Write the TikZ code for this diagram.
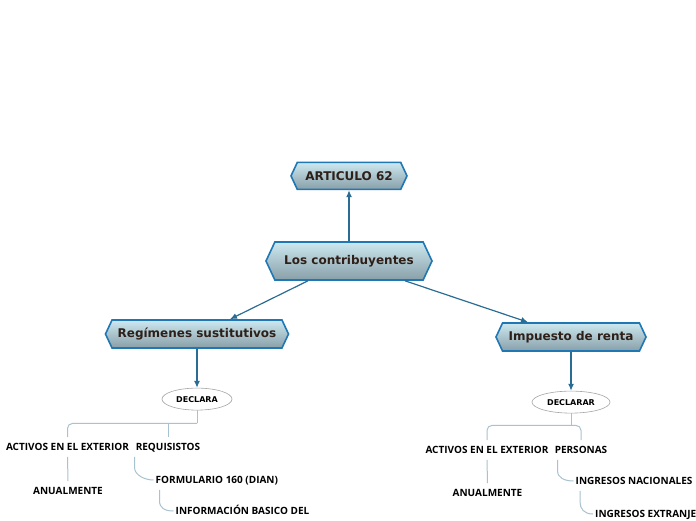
\documentclass[tikz,border=0pt]{standalone}
\usepackage{fontspec}
\usepackage{xcolor}
\usepackage{tikz}
\usetikzlibrary{arrows.meta, positioning, calc, shapes.symbols, shapes.geometric}
\newfontfamily\topicfont{DejaVu Sans}
\newfontfamily\leaffont{Open Sans}
\definecolor{topicborder}{HTML}{1F77B4}
\definecolor{topictop}{HTML}{CDE8F0}
\definecolor{topicbottom}{HTML}{889FA8}
\definecolor{topictext}{HTML}{2E2018}
\definecolor{arrowblue}{HTML}{2B6C93}
\definecolor{branchblue}{HTML}{A8C2CF}

\begin{document}
\begin{tikzpicture}[%
  x=1pt, y=-1pt,
  every node/.style={align=center},
  topic/.style={shape=signal, signal to=west and east, signal pointer angle=130, draw=topicborder, line width=1.6pt, top color=topictop, bottom color=topicbottom, text=topictext, inner sep=2pt, font=\topicfont\bfseries\fontsize{12}{14}\selectfont},
  bubble/.style={ellipse, draw=gray!70, fill=white, line width=0.6pt, inner sep=0pt, minimum height=22pt, font=\topicfont\bfseries\fontsize{8}{9}\selectfont},
  leaf/.style={inner xsep=2pt, inner ysep=6pt, text height=7.2pt, text depth=0pt, font=\leaffont\bfseries\fontsize{10}{12}\selectfont},
  arr/.style={-{Latex[length=7pt, width=6pt]}, draw=arrowblue, line width=1.2pt},
  branch/.style={draw=branchblue, line width=1pt}
]
\useasboundingbox (0,0) rectangle (696,520);

% 1. Central topic and article
\node[topic, minimum width=166pt, minimum height=38pt] (contrib) at (349,261) {Los contribuyentes};
\node[topic, minimum width=116pt, minimum height=27pt, above=51pt of contrib] (articulo) {ARTICULO 62};
\draw[arr] (contrib.north) -- (articulo.south);

% 2. Main branches
\node[topic, minimum width=183pt, minimum height=28pt] (regimen) at (197,334) {Regímenes sustitutivos};
\node[topic, minimum width=150pt, minimum height=28pt] (impuesto) at (571,337) {Impuesto de renta};
\draw[arr] ($(contrib.south)+(-41,0)$) -- ($(regimen.north)+(33,0)$);
\draw[arr] ($(contrib.south)+(56,0)$) -- ($(impuesto.north)+(-43,0)$);

% 3. Declaration bubbles
\node[bubble, minimum width=70pt, below=39pt of regimen] (declara) {DECLARA};
\node[bubble, minimum width=78pt, below=39pt of impuesto] (declarar) {DECLARAR};
\draw[arr] (regimen.south) -- (declara.north);
\draw[arr] (impuesto.south) -- (declarar.north);

% 4. Left subtopics
\node[leaf] (activosA) at (67.5,447) {ACTIVOS EN EL EXTERIOR};
\node[leaf] (requisitos) at (168,447) {REQUISISTOS};
\node[leaf] (anualA) at (68,491) {ANUALMENTE};
\node[leaf, anchor=west] (formulario) at (153.5,480) {FORMULARIO 160 (DIAN)};
\node[leaf, anchor=west] (informacion) at (173.5,511) {INFORMACIÓN BASICO DEL};

\draw[branch] (declara.south) -- ++(0,13) coordinate (forkA);
\draw[branch, rounded corners=5pt] (forkA) -| (activosA.north);
\draw[branch] (forkA -| requisitos.north) -- (requisitos.north);
\draw[branch] (activosA.south) -- (anualA.north);
\draw[branch] ([xshift=1pt]requisitos.south west) -- ++(0,11) .. controls +(0,7) and +(-9,0) .. (formulario.west);
\draw[branch] ([xshift=6pt]formulario.south west) -- ++(0,11) .. controls +(0,7) and +(-9,0) .. (informacion.west);

% 5. Right subtopics
\node[leaf] (activosB) at (487,450) {ACTIVOS EN EL EXTERIOR};
\node[leaf] (personas) at (581,450) {PERSONAS};
\node[leaf] (anualB) at (487.5,493) {ANUALMENTE};
\node[leaf, anchor=west] (nacionales) at (573.5,481) {INGRESOS NACIONALES};
\node[leaf, anchor=west] (extranjeros) at (593,514) {INGRESOS EXTRANJE};

\draw[branch] (declarar.south) -- ++(0,12) coordinate (forkB);
\draw[branch, rounded corners=5pt] (activosB.north) |- (forkB) -| (personas.north);
\draw[branch] (activosB.south) -- (anualB.north);
\draw[branch] ([xshift=5pt]personas.south west) -- ++(0,11) .. controls +(0,7) and +(-9,0) .. (nacionales.west);
\draw[branch] ([xshift=6.5pt]nacionales.south west) -- ++(0,11) .. controls +(0,7) and +(-9,0) .. (extranjeros.west);

\end{tikzpicture}
\end{document}
